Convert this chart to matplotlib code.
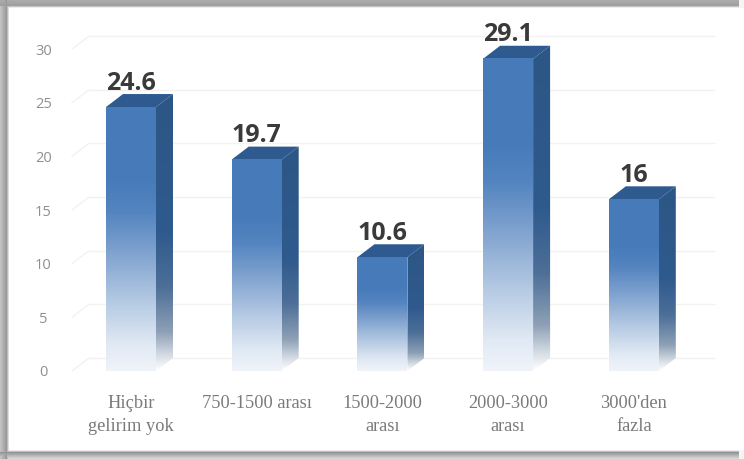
import numpy as np
import matplotlib
matplotlib.use("Agg")
import matplotlib.pyplot as plt
from matplotlib.colors import LinearSegmentedColormap
from matplotlib.patches import Polygon
from matplotlib.transforms import ScaledTranslation

categories = ["Hiçbir\ngelirim yok", "750-1500 arası", "1500-2000\narası", "2000-3000\narası", "3000'den\nfazla"]
values = [24.6, 19.7, 10.6, 29.1, 16]
labels = ["24.6", "19.7", "10.6", "29.1", "16"]
yticks = [0, 5, 10, 15, 20, 25, 30]

W, H = 744, 459
fig = plt.figure(figsize=(W/100, H/100), dpi=100, facecolor="white")

# picture frame: soft shadow along left, top and bottom edges
bg = fig.add_axes([0, 0, 1, 1], zorder=0)
bg.set_xlim(0, W); bg.set_ylim(H, 0); bg.axis("off")
yy, xx = np.mgrid[0:H, 0:W]
shade = np.ones((H, W))
def band(dist, dark, soft):
    inner = np.clip(1 - dist/soft, 0, 1)
    return 1 - (1-dark)*inner
shade = np.minimum(shade, band(xx-6.0, 0.60, 3.0) + np.clip((6-xx)/8., 0, 1)*0.22)
shade = np.minimum(shade, band(yy-5.0, 0.62, 2.5) + np.clip((5-yy)/8., 0, 1)*0.08)
bottom = band(452.0-yy, 0.58, 2.5) + np.clip((yy-452)/7., 0, 1)*0.3
shade = np.minimum(shade, bottom)
shade[xx > 738] = np.maximum(shade[xx > 738], 0.96)
bg.imshow(shade, cmap="gray", vmin=0, vmax=1, extent=(0, W, H, 0), aspect="auto", interpolation="bilinear")

# plot axes: pixel placement of the front plane
x0 = 131; dx = 125.7; y0 = 371; py = 10.73
left, right = 40, 725
top_val = 33.0
ax = fig.add_axes([left/W, 1-y0/H, (right-left)/W, top_val*py/H], zorder=1)
ax.patch.set_alpha(0)
ax.set_xlim((left-x0)/dx, (right-x0)/dx)
ax.set_ylim(0, top_val)
for s in ax.spines.values():
    s.set_visible(False)
ax.tick_params(length=0)
ax.set_xticks(range(len(categories)))
ax.set_xticklabels(categories, family="Liberation Serif", fontsize=13.2, color="#7a7a7a", linespacing=1.48)
ax.tick_params(axis="x", pad=17)
ax.set_yticks(yticks)
ax.set_yticklabels([str(t) for t in yticks], family="Open Sans", fontsize=10.5, color="#8f8f8f", ha="center")
ax.tick_params(axis="y", pad=-2.5)

depth_x, depth_y = 17, 13
bar_w = 50/dx
back = ax.transData + ScaledTranslation(depth_x/100, depth_y/100, fig.dpi_scale_trans)
grid_c = "#f3f2ee"
wall_x = -0.47

# back-wall gridlines with the short diagonal on the side wall
for t in yticks:
    ax.plot([wall_x, 4.50], [t, t], transform=back, color=grid_c, lw=1, zorder=1, clip_on=False)
    ax.annotate("", xy=(wall_x, t), xycoords=back, xytext=(wall_x, t), textcoords="data",
                arrowprops=dict(arrowstyle="-", color=grid_c, lw=1, shrinkA=0, shrinkB=0), zorder=1)

front_cmap = LinearSegmentedColormap.from_list("f", [(0, "#f0f4fa"), (0.10, "#e0e9f4"), (0.25, "#b8cce4"),
                                                     (0.45, "#7fa2cf"), (0.60, "#5585c0"), (0.72, "#477bba"), (1, "#467ab9")])
side_cmap = LinearSegmentedColormap.from_list("s", [(0, "#ffffff"), (0.05, "#d9dfe6"), (0.14, "#8ea0b6"),
                                                    (0.30, "#4d6f98"), (0.50, "#2f5a8d"), (1, "#2c5685")])
top_color = "#2e5a90"

for i, v in enumerate(values):
    l, r = i-bar_w/2, i+bar_w/2
    ramp = np.linspace(0, 1, 256)[:, None]
    # side face
    p0 = ax.transData.transform([[r, 0], [r, v]])
    side_px = np.array([p0[0], p0[1], p0[1]+[depth_x, depth_y], p0[0]+[depth_x, depth_y]])
    side_data = ax.transData.inverted().transform(side_px)
    im = ax.imshow(ramp, cmap=side_cmap, origin="lower", aspect="auto", zorder=3,
                   extent=(side_data[:, 0].min(), side_data[:, 0].max(), 0, side_data[:, 1].max()),
                   vmin=0, vmax=1)
    side_poly = Polygon(side_data, transform=ax.transData, facecolor="none", edgecolor="none")
    ax.add_patch(side_poly)
    im.set_clip_path(side_poly)
    # top face
    tl = ax.transData.transform((l, v)); tr = ax.transData.transform((r, v))
    top_px = np.array([tl, tr, tr+[depth_x, depth_y], tl+[depth_x, depth_y]])
    top_data = ax.transData.inverted().transform(top_px)
    ax.add_patch(Polygon(top_data, facecolor=top_color, edgecolor="none", zorder=3, clip_on=False))
    # front face
    ax.imshow(ramp, cmap=front_cmap, origin="lower", aspect="auto", zorder=4,
              extent=(l, r, 0, v), vmin=0, vmax=1)
    ax.text(i, v, labels[i], transform=ax.transData + ScaledTranslation(0, 17.5/100, fig.dpi_scale_trans),
            ha="center", va="baseline", family="Open Sans", fontweight="bold", fontsize=18, color="#3a3a3a", zorder=5)

ax.set_xlim((left-x0)/dx, (right-x0)/dx)
ax.set_ylim(0, top_val)
fig.savefig("out.png", dpi=100, facecolor="white")
